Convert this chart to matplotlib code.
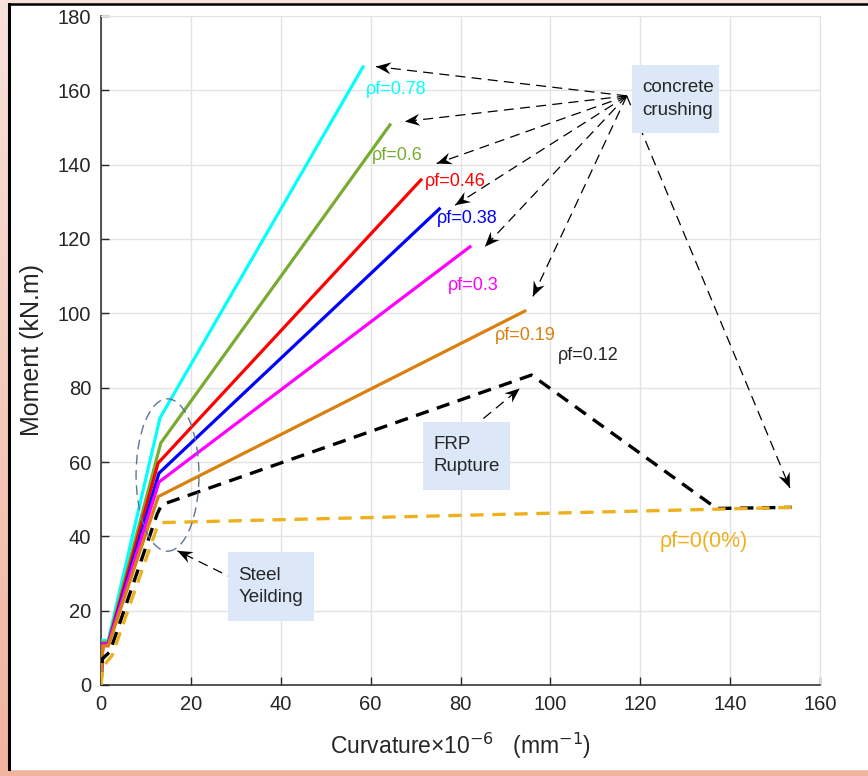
import numpy as np
import matplotlib

matplotlib.use("Agg")
import matplotlib.pyplot as plt
from matplotlib.patches import Ellipse, Polygon, Rectangle

plt.rcParams["font.family"] = ["Liberation Sans", "DejaVu Sans"]

# moment-curvature curves, curvature in 1e-6 1/mm, moment in kN.m
curv_078 = [0, 0.4, 1.6, 13.1, 58.3]
mom_078 = [0, 12.0, 12.0, 71.8, 166.3]
curv_060 = [0, 0.4, 1.6, 13.3, 64.3]
mom_060 = [0, 11.5, 11.5, 65.1, 150.7]
curv_046 = [0, 0.4, 1.6, 12.7, 71.2]
mom_046 = [0, 11.0, 11.0, 59.7, 135.9]
curv_038 = [0, 0.4, 1.6, 12.9, 75.3]
mom_038 = [0, 11.0, 11.0, 57.0, 128.1]
curv_030 = [0, 0.4, 1.6, 12.9, 82.1]
mom_030 = [0, 11.0, 11.0, 54.6, 117.9]
curv_019 = [0, 0.4, 1.6, 12.75, 94.3]
mom_019 = [0, 10.5, 10.5, 50.7, 100.6]
curv_012 = [0, 0.3, 2.0, 12.5, 13.5, 95.8, 137.0, 153.7]
mom_012 = [0, 7.0, 9.0, 46.0, 48.5, 83.4, 47.5, 47.8]
curv_000 = [0, 0.5, 2.5, 12.5, 13.5, 154.0]
mom_000 = [0, 5.0, 8.0, 42.5, 43.7, 47.8]

solid_curves = [
    (curv_078, mom_078, "#00ffff"),
    (curv_060, mom_060, "#77ac30"),
    (curv_046, mom_046, "#ff0000"),
    (curv_038, mom_038, "#0000ff"),
    (curv_030, mom_030, "#ff00ff"),
    (curv_019, mom_019, "#d9800f"),
]

# curve labels: text, left x, centre y, colour, size
curve_labels = [
    ("ρf=0.78", 59.0, 160.1, "#00ffff", 13),
    ("ρf=0.6", 60.2, 142.4, "#77ac30", 13),
    ("ρf=0.46", 72.1, 135.5, "#ff0000", 13),
    ("ρf=0.38", 74.7, 125.5, "#0000ff", 13),
    ("ρf=0.3", 77.3, 107.5, "#ff00ff", 13),
    ("ρf=0.19", 87.7, 94.0, "#d9800f", 13),
    ("ρf=0.12", 101.7, 88.6, "#262626", 13),
    ("ρf=0(0%)", 124.4, 38.7, "#edb120", 15.5),
]

# dashed pointer arrows: (tail, head)
crush_tail = (117.0, 158.5)
crush_heads = [(61.2, 166.4), (67.6, 151.6), (74.7, 140.3), (78.8, 129.1),
               (85.4, 117.9), (96.1, 104.5), (153.3, 53.0)]
frp_arrow = ((85.1, 71.7), (93.2, 79.8))
yield_arrow = ((30.2, 28.2), (17.0, 36.1))

# note boxes: x0, x1, y0, y1, text
notes = [
    (118.2, 137.5, 148.5, 166.8, "concrete\ncrushing"),
    (71.7, 91.0, 52.5, 70.8, "FRP\nRupture"),
    (28.3, 47.4, 17.2, 35.8, "Steel\nYeilding"),
]

fig = plt.figure(figsize=(8.68, 7.76), dpi=100)

# pink backdrop with a white panel on top
bg = fig.add_axes([0, 0, 1, 1], zorder=-5)
grad = np.linspace(0, 1, 256).reshape(-1, 1)
top_c = np.array([249, 226, 219]) / 255
bot_c = np.array([241, 180, 158]) / 255
bg.imshow(top_c + (bot_c - top_c) * grad[..., None], aspect="auto",
          extent=[0, 1, 0, 1])
bg.add_patch(Rectangle((10 / 868, 7 / 776), 1, 765 / 776, color="white"))
bg.plot([9 / 868, 9 / 868], [7 / 776, 772 / 776], color="black", lw=2.2)
bg.plot([9 / 868, 1], [772 / 776, 772 / 776], color="black", lw=1.8)
bg.set_xlim(0, 1)
bg.set_ylim(0, 1)
bg.axis("off")

ax = fig.add_axes([101 / 868, 91 / 776, 719 / 868, 669 / 776])
ax.set_xlim(0, 160)
ax.set_ylim(0, 180)
ax.set_xticks(np.arange(0, 161, 20))
ax.set_yticks(np.arange(0, 181, 20))
ax.grid(True, color="#e3e3e3", lw=1)
ax.set_axisbelow(True)
ax.tick_params(direction="in", length=6, width=1, colors="#262626",
               labelsize=14.5, pad=7)
for side in ["top", "right"]:
    ax.spines[side].set_color("#e3e3e3")
for side in ["left", "bottom"]:
    ax.spines[side].set_color("#262626")
    ax.spines[side].set_linewidth(1.1)

for cx, my, col in solid_curves:
    ax.plot(cx, my, color=col, lw=2.3, solid_joinstyle="miter", zorder=3)
ax.plot(curv_012, mom_012, color="black", lw=2.4, dashes=(4, 2.6), zorder=3)
ax.plot(curv_000, mom_000, color="#edb120", lw=2.4, dashes=(4, 2.6), zorder=3)

for txt, x, y, col, fs in curve_labels:
    ax.text(x, y, txt, color=col, fontsize=fs, ha="left", va="center", zorder=4)

ax.set_xlabel("Curvature×10$^{-6}$   (mm$^{-1}$)", fontsize=16.5,
              color="#262626", labelpad=12)
ax.set_ylabel("Moment (kN.m)", fontsize=18, color="#262626", labelpad=10)

fig.canvas.draw()


def dashed_arrow(tail, head, length=15, half_w=6, notch=5):
    ax.plot([tail[0], head[0]], [tail[1], head[1]], color="black", lw=0.9,
            dashes=(8, 5), zorder=5)
    t = ax.transData.transform(tail)
    h = ax.transData.transform(head)
    u = (h - t) / np.hypot(*(h - t))
    n = np.array([-u[1], u[0]])
    pts = [h, h - length * u + half_w * n, h - (length - notch) * u,
           h - length * u - half_w * n]
    pts = ax.transData.inverted().transform(np.array(pts))
    ax.add_patch(Polygon(pts, closed=True, color="black", lw=0, zorder=6))


for hd in crush_heads:
    dashed_arrow(crush_tail, hd)
dashed_arrow(*frp_arrow)
dashed_arrow(*yield_arrow)

ax.add_patch(Ellipse((14.8, 56.5), 14, 41, fill=False, ec="#5f7396", lw=1,
                     ls=(0, (7, 4)), zorder=5))

for x0, x1, y0, y1, txt in notes:
    ax.add_patch(Rectangle((x0, y0), x1 - x0, y1 - y0, color="#dce8f8",
                           lw=0, zorder=6))
    ax.text(x0 + 2.3, (y0 + y1) / 2, txt, fontsize=13.5, color="#262626",
            ha="left", va="center", linespacing=1.4, zorder=7)

fig.savefig("out.png", dpi=100)
